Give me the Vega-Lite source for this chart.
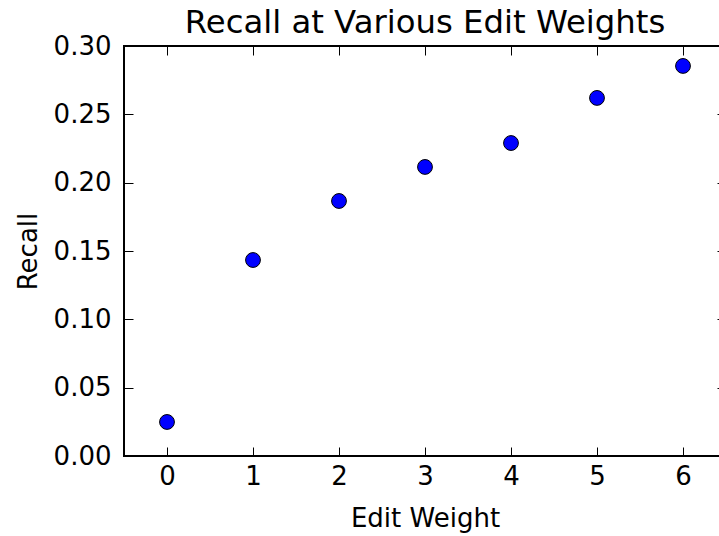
{
  "$schema": "https://vega.github.io/schema/vega-lite/v6.json",
  "width": 602,
  "height": 410,
  "autosize": {"type": "none"},
  "padding": {"left": 124, "top": 46, "right": 0, "bottom": 80},
  "background": "white",
  "title": {"text": "Recall at Various Edit Weights", "fontSize": 32.3, "font": "DejaVu Sans", "fontWeight": "normal", "color": "black", "offset": 0, "dy": 32, "baseline": "alphabetic"},
  "config": {
    "view": {"stroke": "black", "strokeWidth": 2},
    "axis": {"labelFont": "DejaVu Sans", "titleFont": "DejaVu Sans", "labelFontSize": 26, "titleFontSize": 26, "titleFontWeight": "normal", "labelColor": "black", "titleColor": "black", "grid": false, "domain": false, "tickColor": "black", "tickSize": -9, "tickWidth": 1}
  },
  "data": {"values": [
    {"w": 0, "r": 0.0249},
    {"w": 1, "r": 0.1434},
    {"w": 2, "r": 0.1866},
    {"w": 3, "r": 0.2115},
    {"w": 4, "r": 0.2290},
    {"w": 5, "r": 0.2620},
    {"w": 6, "r": 0.2854}
  ]},
  "layer": [
    {
      "mark": {"type": "point", "filled": true, "fill": "#0000ff", "stroke": "black", "strokeWidth": 1, "size": 220, "opacity": 1, "shape": "circle"},
      "encoding": {
        "x": {"field": "w", "type": "quantitative", "scale": {"domain": [-0.5, 6.5], "nice": false, "zero": false}, "axis": {"title": "Edit Weight", "values": [0,1,2,3,4,5,6], "format": "d", "labelPadding": 16, "titlePadding": 16}},
        "y": {"field": "r", "type": "quantitative", "scale": {"domain": [0, 0.3], "nice": false}, "axis": {"title": "Recall", "values": [0,0.05,0.1,0.15,0.2,0.25,0.3], "format": ".2f", "labelPadding": 22, "titlePadding": 12}}
      }
    },
    {
      "mark": {"type": "point", "opacity": 0},
      "encoding": {
        "x": {"field": "w", "type": "quantitative", "axis": {"orient": "top", "title": null, "labels": false, "values": [0,1,2,3,4,5,6], "minExtent": 0, "maxExtent": 0}},
        "y": {"field": "r", "type": "quantitative", "axis": {"orient": "right", "title": null, "labels": false, "values": [0,0.05,0.1,0.15,0.2,0.25,0.3], "minExtent": 0, "maxExtent": 0}}
      }
    }
  ],
  "resolve": {"axis": {"x": "independent", "y": "independent"}}
}
